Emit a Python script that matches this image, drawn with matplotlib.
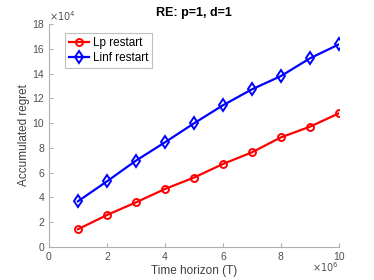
import numpy as np
import matplotlib
matplotlib.use("Agg")
import matplotlib.pyplot as plt

plt.rcParams['font.family'] = ['Liberation Sans', 'DejaVu Sans']

horizon = [1, 2, 3, 4, 5, 6, 7, 8, 9, 10]  # x 10^6
lp_restart = [1.43, 2.58, 3.6, 4.68, 5.6, 6.7, 7.64, 8.85, 9.71, 10.79]  # x 10^4
linf_restart = [3.69, 5.3, 6.97, 8.45, 9.98, 11.44, 12.73, 13.8, 15.23, 16.36]

grey = '#404040'
fig = plt.figure(figsize=(3.74, 2.8), dpi=100)
ax = fig.add_axes([0.131, 0.118, 0.775, 0.796])

ax.plot(horizon, lp_restart, '-o', color='red', lw=1.6, ms=5, mfc='none',
        mew=1.4, label='Lp restart')
ax.plot(horizon, linf_restart, '-d', color='blue', lw=1.6, ms=6, mfc='none',
        mew=1.4, label='Linf restart')

ax.set_xlim(0, 10)
ax.set_ylim(0, 18)
ax.set_xticks(np.arange(0, 11, 2))
ax.set_yticks(np.arange(0, 19, 2))
for s in ['top', 'right']:
    ax.spines[s].set_visible(False)
for s in ['left', 'bottom']:
    ax.spines[s].set_color('#b0b0b0')
ax.tick_params(direction='in', length=3, colors='#b0b0b0', labelcolor='#505050',
               labelsize=7.5)

ax.set_title('RE: p=1, d=1', fontsize=9, fontweight='bold', pad=6)
ax.set_xlabel('Time horizon (T)', fontsize=8.5, color=grey, labelpad=2)
ax.set_ylabel('Accumulated regret', fontsize=8.5, color=grey, labelpad=2)
ax.text(0.0, 1.005, r'$\times10^4$', transform=ax.transAxes, fontsize=7,
        color='#505050', ha='left', va='bottom')
ax.text(1.0, -0.06, r'$\times10^6$', transform=ax.transAxes, fontsize=7,
        color='#505050', ha='right', va='top')

leg = ax.legend(loc='upper left', fontsize=8.5, handlelength=1.7,
                borderpad=0.35, labelspacing=0.2, handletextpad=0.3,
                fancybox=False, bbox_to_anchor=(0.035, 0.985))
leg.get_frame().set_edgecolor('#b0b0b0')
leg.get_frame().set_linewidth(0.8)

fig.savefig('out.png', dpi=100)
